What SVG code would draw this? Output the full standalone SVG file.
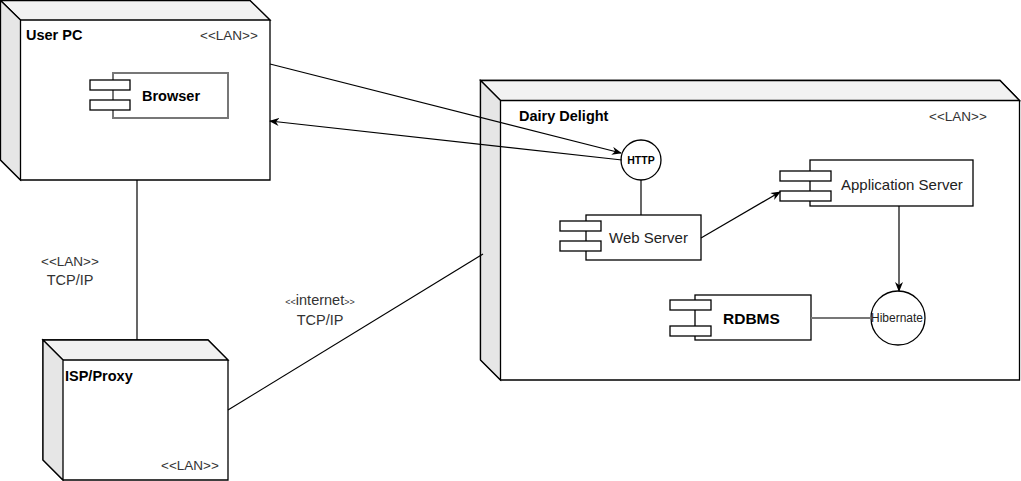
<svg xmlns="http://www.w3.org/2000/svg" width="1021" height="481" viewBox="0 0 1021 481">
<style>
.front{fill:#fff;stroke:#000;stroke-width:1.3}
.top{fill:#f2f2f2;stroke:#000;stroke-width:1.3}
.side{fill:#e6e6e6;stroke:#000;stroke-width:1.3}
.comp{fill:#fff;stroke:#000;stroke-width:1.3}
.tab{fill:#fff;stroke:#000;stroke-width:1.3}
.iface{fill:#fff;stroke:#000;stroke-width:1.3}
.t{font-family:"Liberation Sans",Arial,sans-serif;fill:#222}
.b{font-weight:bold;fill:#000}
.st{fill:#333}
.conn{fill:none;stroke:#000;stroke-width:1.2}
.gray{stroke:#777;stroke-width:2}
</style>
<defs>
<marker id="arr" viewBox="0 0 10 8" refX="9" refY="4" markerWidth="10" markerHeight="8" markerUnits="userSpaceOnUse" orient="auto">
<path d="M0,0 L10,4 L0,8 L3,4 z" fill="#000"/>
</marker>
</defs>

<g id="user-pc">
<path class="front" d="M0.5,0.5 L250,0.5 L270,20 L270,180 L20.5,180 L0.5,160 Z"/>
<path class="top" d="M0.5,0.5 L250,0.5 L270,20 L20.5,20 Z"/>
<path class="side" d="M0.5,0.5 L20.5,20 L20.5,180 L0.5,160 Z"/>
<text class="t b" x="26" y="40" font-size="14.5">User PC</text>
<text class="t st" x="200" y="40" font-size="13.5">&lt;&lt;LAN&gt;&gt;</text>
</g>

<g id="browser">
<rect x="113" y="73" width="115" height="45" fill="#fff" stroke="#777" stroke-width="2"/>
<rect class="tab" x="90" y="80" width="40" height="10"/>
<rect class="tab" x="90" y="100" width="40" height="10"/>
<text class="t b" x="142" y="101" font-size="14.5">Browser</text>
</g>

<g id="isp-proxy">
<path class="front" d="M43,340 L208,340 L228,360 L228,480 L63,480 L43,460 Z"/>
<path class="top" d="M43,340 L208,340 L228,360 L63,360 Z"/>
<path class="side" d="M43,340 L63,360 L63,480 L43,460 Z"/>
<text class="t b" x="65" y="381" font-size="14.5">ISP/Proxy</text>
<text class="t st" x="161" y="470" font-size="13.5">&lt;&lt;LAN&gt;&gt;</text>
</g>

<g id="dairy-delight">
<path class="front" d="M480.5,80.5 L1000,80.5 L1019.5,100.5 L1019.5,380 L500.5,380 L480.5,360 Z"/>
<path class="top" d="M480.5,80.5 L1000,80.5 L1019.5,100.5 L500.5,100.5 Z"/>
<path class="side" d="M480.5,80.5 L500.5,100.5 L500.5,380 L480.5,360 Z"/>
<text class="t b" x="519" y="121" font-size="14.5">Dairy Delight</text>
<text class="t st" x="929" y="121" font-size="13.5">&lt;&lt;LAN&gt;&gt;</text>
</g>

<g id="http">
<circle class="iface" cx="641" cy="160" r="20"/>
<text class="t b" x="641" y="164" font-size="10.5" text-anchor="middle">HTTP</text>
</g>

<g id="web-server">
<rect class="comp" x="586" y="215" width="115" height="45"/>
<rect class="tab" x="560" y="221" width="41" height="10"/>
<rect class="tab" x="560" y="241" width="41" height="10"/>
<text class="t" x="609" y="243" font-size="15">Web Server</text>
</g>

<g id="application-server">
<rect class="comp" x="810" y="160" width="163" height="46"/>
<rect class="tab" x="780" y="171" width="51" height="10"/>
<rect class="tab" x="780" y="191" width="51" height="10"/>
<text class="t" x="841" y="190" font-size="15">Application Server</text>
</g>

<g id="rdbms">
<rect class="comp" x="695" y="295" width="116" height="45"/>
<rect class="tab" x="670" y="300" width="41" height="10"/>
<rect class="tab" x="670" y="326" width="41" height="10"/>
<text class="t b" x="723" y="324" font-size="15.5">RDBMS</text>
</g>

<g id="hibernate">
<circle class="iface" cx="898" cy="318" r="27"/>
<text class="t" x="897" y="322" font-size="12" text-anchor="middle">Hibernate</text>
</g>

<g id="connectors">
<path class="conn" d="M270,64 L621,153" marker-end="url(#arr)"/>
<path class="conn" d="M622,160 L270,121" marker-end="url(#arr)"/>
<path class="conn" d="M641,180 L641,215"/>
<path class="conn" d="M701,238 L780,192" marker-end="url(#arr)"/>
<path class="conn" d="M899,206 L899,291" stroke="#444" marker-end="url(#arr)"/>
<path class="conn gray" d="M811,318 L871,318"/>
<path class="conn" d="M137,180 L137,340" stroke="#444"/>
<path class="conn" d="M228,410 L483,254"/>
<text class="t st" x="70" y="266" font-size="13.5" text-anchor="middle">&lt;&lt;LAN&gt;&gt;</text>
<text class="t st" x="70" y="285" font-size="14.5" text-anchor="middle">TCP/IP</text>
<text class="t st" x="320" y="305" text-anchor="middle"><tspan font-size="9">&lt;&lt;</tspan><tspan font-size="14.5">internet</tspan><tspan font-size="9">&gt;&gt;</tspan></text>
<text class="t st" x="320" y="325" font-size="14.5" text-anchor="middle">TCP/IP</text>
</g>
</svg>
